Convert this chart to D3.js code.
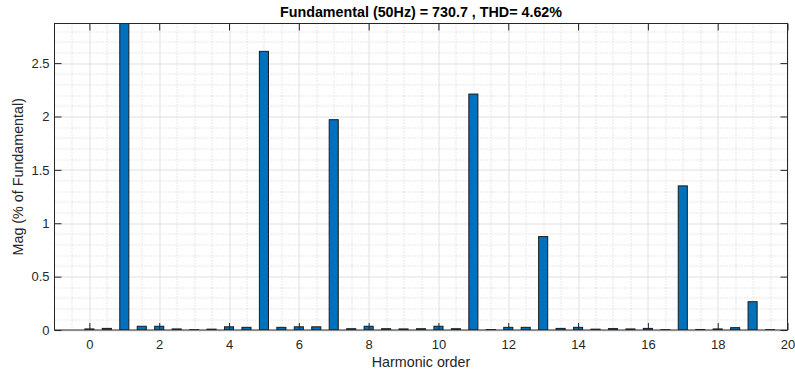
<!DOCTYPE html>
<html>
<head>
<meta charset="utf-8">
<script src="https://cdn.jsdelivr.net/npm/d3@7"></script>
<style>
  body { margin: 0; background: #fff; }
  text { font-family: "Liberation Sans", Arial, sans-serif; }
</style>
</head>
<body>
<div id="chart"></div>
<script>
// harmonic orders, step 0.5
const orders = [0, 0.5, 1, 1.5, 2, 2.5, 3, 3.5, 4, 4.5, 5, 5.5, 6, 6.5, 7, 7.5, 8, 8.5, 9, 9.5,
  10, 10.5, 11, 11.5, 12, 12.5, 13, 13.5, 14, 14.5, 15, 15.5, 16, 16.5, 17, 17.5, 18, 18.5, 19, 19.5]
// magnitude, % of fundamental
const mags = [0.01, 0.015, 100, 0.035, 0.035, 0.01, 0.003, 0.008, 0.03, 0.025, 2.61, 0.025, 0.03, 0.03, 1.97, 0.012, 0.035, 0.012, 0.01, 0.012,
  0.035, 0.012, 2.21, 0.004, 0.025, 0.025, 0.875, 0.015, 0.025, 0.008, 0.013, 0.01, 0.015, 0.003, 1.35, 0.005, 0.01, 0.022, 0.265, 0.003]
const xTicks = [0, 2, 4, 6, 8, 10, 12, 14, 16, 18, 20]
const yTicks = [0, 0.5, 1, 1.5, 2, 2.5]
const title = "Fundamental (50Hz) = 730.7 , THD= 4.62%"

const width = 795, height = 376
const margin = { top: 23.5, right: 7.5, bottom: 46, left: 54.5 }
const w = width - margin.left - margin.right
const h = height - margin.top - margin.bottom

// ylim like the fft tool does: 1.1 * largest harmonic
const yMax = 1.1 * d3.max(mags.filter((d, i) => orders[i] !== 1))

const x = d3.scaleLinear().domain([-1, 20]).range([0, w])
const y = d3.scaleLinear().domain([0, yMax]).range([h, 0])

const svg = d3.select("#chart").append("svg")
  .attr("width", width)
  .attr("height", height)

const g = svg.append("g")
  .attr("transform", "translate(" + margin.left + "," + margin.top + ")")

// minor grid
const xMinor = d3.range(-0.5, 20, 0.5).filter(v => Math.abs(v % 2) > 1e-6)
const yMinor = d3.range(0.1, yMax, 0.1).filter(v => Math.abs((v * 10) % 5) > 1e-6)

g.append("g").selectAll("line").data(xMinor).join("line")
  .attr("x1", d => Math.round(x(d)) + 0.5).attr("x2", d => Math.round(x(d)) + 0.5)
  .attr("y1", 0).attr("y2", h)
  .attr("stroke", "#cfcfcf").attr("stroke-dasharray", "1,2")

g.append("g").selectAll("line").data(yMinor).join("line")
  .attr("y1", d => Math.round(y(d)) + 0.5).attr("y2", d => Math.round(y(d)) + 0.5)
  .attr("x1", 0).attr("x2", w)
  .attr("stroke", "#cfcfcf").attr("stroke-dasharray", "1,2")

// major grid
g.append("g").selectAll("line").data(xTicks).join("line")
  .attr("x1", d => Math.round(x(d)) + 0.5).attr("x2", d => Math.round(x(d)) + 0.5)
  .attr("y1", 0).attr("y2", h)
  .attr("stroke", "#dfdfdf")

g.append("g").selectAll("line").data(yTicks).join("line")
  .attr("y1", d => Math.round(y(d)) + 0.5).attr("y2", d => Math.round(y(d)) + 0.5)
  .attr("x1", 0).attr("x2", w)
  .attr("stroke", "#dfdfdf")

// bars
const barW = x(0.26) - x(0)
g.append("g")
  .attr("clip-path", "url(#clip)")
  .selectAll("rect").data(orders).join("rect")
  .attr("x", d => x(d) - barW / 2)
  .attr("width", barW)
  .attr("y", (d, i) => y(Math.min(mags[i], yMax + 1)))
  .attr("height", (d, i) => h - y(Math.min(mags[i], yMax + 1)))
  .attr("fill", "#0072BD")
  .attr("stroke", "#1a1a1a")
  .attr("stroke-width", 1)

svg.append("defs").append("clipPath").attr("id", "clip")
  .append("rect").attr("x", 0).attr("y", 0).attr("width", w).attr("height", h)

// axes
const axisColor = "#262626"
const fmt = d3.format("~g")

const xAxis = g.append("g").attr("transform", "translate(0," + h + ")")
  .call(d3.axisBottom(x).tickValues(xTicks).tickFormat(fmt).tickSizeInner(-7).tickSizeOuter(0).tickPadding(10))
const xAxisTop = g.append("g")
  .call(d3.axisTop(x).tickValues(xTicks).tickFormat("").tickSizeInner(-7).tickSizeOuter(0))
const yAxis = g.append("g")
  .call(d3.axisLeft(y).tickValues(yTicks).tickFormat(fmt).tickSizeInner(-7).tickSizeOuter(0).tickPadding(5))
const yAxisRight = g.append("g").attr("transform", "translate(" + w + ",0)")
  .call(d3.axisRight(y).tickValues(yTicks).tickFormat("").tickSizeInner(-7).tickSizeOuter(0))

;[xAxis, xAxisTop, yAxis, yAxisRight].forEach(a => {
  a.select(".domain").remove()
  a.selectAll("line").attr("stroke", axisColor)
  a.selectAll("text").attr("fill", axisColor).style("font-size", "13px")
})

g.append("rect")
  .attr("x", 0).attr("y", 0).attr("width", w).attr("height", h)
  .attr("fill", "none").attr("stroke", axisColor)

// labels
svg.append("text")
  .attr("x", margin.left + w / 2).attr("y", 17)
  .attr("text-anchor", "middle")
  .style("font-size", "14.3px").style("font-weight", "bold")
  .attr("fill", "#000")
  .text(title)

svg.append("text")
  .attr("x", margin.left + w / 2).attr("y", 367)
  .attr("text-anchor", "middle")
  .style("font-size", "14.3px")
  .attr("fill", axisColor)
  .text("Harmonic order")

svg.append("text")
  .attr("transform", "translate(23," + (margin.top + h / 2) + ") rotate(-90)")
  .attr("text-anchor", "middle")
  .style("font-size", "14.3px")
  .attr("fill", axisColor)
  .text("Mag (% of Fundamental)")
</script>
</body>
</html>
